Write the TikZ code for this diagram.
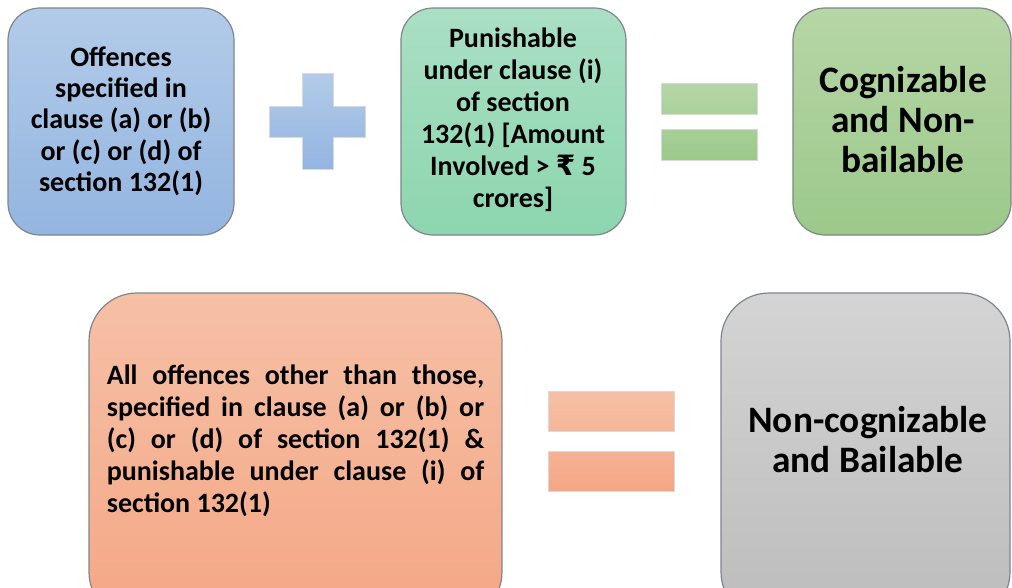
\documentclass[tikz,border=0pt]{standalone}
\usepackage{fontspec}
\setmainfont{Carlito}
\newfontfamily\rupeefont{DejaVu Sans}
\usetikzlibrary{positioning}

\definecolor{blueTop}{HTML}{B3CBE9}
\definecolor{blueBot}{HTML}{93B5E0}
\definecolor{tealTop}{HTML}{AADFC4}
\definecolor{tealBot}{HTML}{8CD6AE}
\definecolor{greenTop}{HTML}{B6D6A6}
\definecolor{greenBot}{HTML}{9CC98A}
\definecolor{peachTop}{HTML}{F6C0A6}
\definecolor{peachBot}{HTML}{F4A785}
\definecolor{greyTop}{HTML}{D4D4D4}
\definecolor{greyBot}{HTML}{BCBCBC}
\definecolor{edge}{HTML}{7F858C}

\begin{document}
\begin{tikzpicture}[x=0.75pt,y=-0.75pt]
		% Styles
		\tikzset{
			card/.style={draw=edge, line width=0.9pt, rounded corners=24pt},
			bigcard/.style={card, rounded corners=36pt},
			smalltext/.style={font=\bfseries\fontsize{21}{23.5}\selectfont, align=center},
			bigtext/.style={font=\bfseries\fontsize{28}{30}\selectfont, align=center},
			sign/.style={draw=white!85!black, line width=0.4pt}
		}

		% Frame
		\useasboundingbox (0,0) rectangle (1012,587);
		\clip (0,0) rectangle (1012,587);

		% Top row: boxes
		\draw[card, top color=blueTop, bottom color=blueBot] (8,8) rectangle (234,235);
		\draw[card, top color=tealTop, bottom color=tealBot] (401,8) rectangle (626,235);
		\draw[card, top color=greenTop, bottom color=greenBot] (793,8) rectangle (1011,235);

		% Plus sign
		\draw[sign, top color=blueTop, bottom color=blueBot] (302,73) -- (333,73) -- (333,106) -- (365,106) -- (365,137) -- (333,137) -- (333,169) -- (302,169) -- (302,137) -- (269,137) -- (269,106) -- (302,106) -- cycle;

		% Equals sign (green)
		\draw[sign, top color=greenTop, bottom color=greenTop!55!greenBot] (661,83) rectangle (757,114);
		\draw[sign, top color=greenTop!45!greenBot, bottom color=greenBot] (661,129) rectangle (757,160);

		% Top row: texts
		\node[smalltext] (offences) at (121,121) {Offences\\specified in\\clause (a) or (b)\\or (c) or (d) of\\section 132(1)};
		\node[smalltext, font=\bfseries\fontsize{21}{24}\selectfont] (punishable) at (513,120) {Punishable\\under clause (i)\\of section\\132(1) [Amount\\Involved > {\rupeefont ₹} 5\\crores]};
		\node[bigtext] (cognizable) at (903,120) {Cognizable\\and Non-\\bailable};

		% Bottom row: boxes
		\draw[bigcard, top color=peachTop, bottom color=peachBot] (89,293) rectangle (502,620);
		\draw[bigcard, top color=greyTop, bottom color=greyBot] (721,293) rectangle (1010,620);

		% Equals sign (peach)
		\draw[sign, top color=peachTop, bottom color=peachTop!60!peachBot] (548,391) rectangle (674,431);
		\draw[sign, top color=peachTop!40!peachBot, bottom color=peachBot] (548,451) rectangle (674,491);

		% Bottom row: texts
		\node[font=\bfseries\fontsize{21}{24}\selectfont, text width=283pt, align=justify, inner sep=0pt] (others) at (295.5,441) {All offences other than those,\linebreak specified in clause (a) or (b) or\linebreak (c) or (d) of section 132(1) \&\linebreak punishable under clause (i) of\linebreak section 132(1)};
		\node[bigtext] (noncog) at (868,440) {Non-cognizable\\and Bailable};

	\end{tikzpicture}
\end{document}
